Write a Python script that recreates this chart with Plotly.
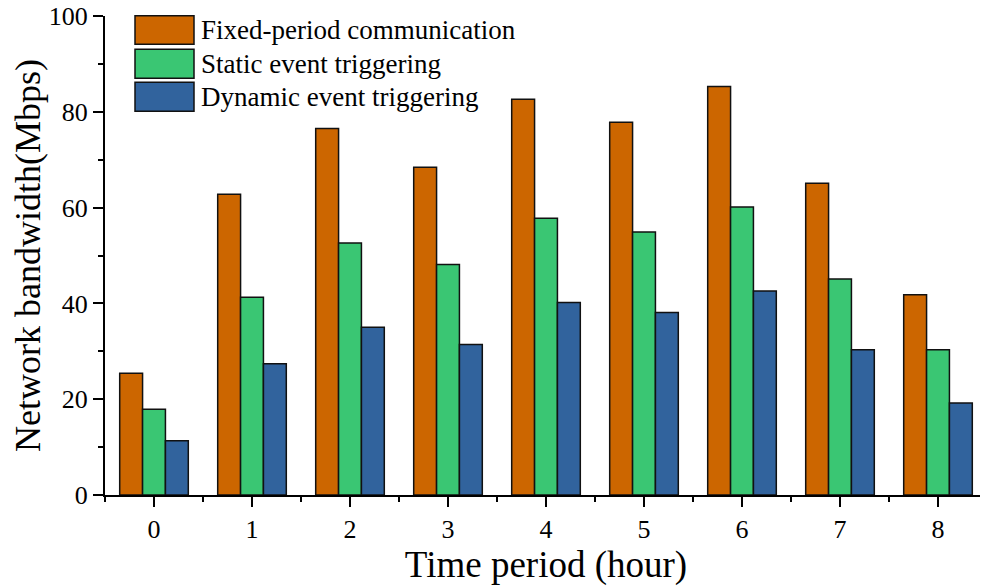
import plotly.graph_objects as go

periods = [0, 1, 2, 3, 4, 5, 6, 7, 8]
series_names = ["Fixed-period communication", "Static event triggering", "Dynamic event triggering"]
fixed_period = [25.4, 62.8, 76.5, 68.4, 82.6, 77.8, 85.3, 65.1, 41.8]
static_event = [17.9, 41.3, 52.6, 48.1, 57.8, 54.9, 60.1, 45.1, 30.3]
dynamic_event = [11.3, 27.4, 35.0, 31.4, 40.2, 38.1, 42.6, 30.3, 19.2]
colors = ["#CC6600", "#3AC673", "#31639D"]

W, H = 988, 586
OFF = 8  # browser default body margin
# target plot area in screen pixels: x 105..987, y 16..495
L, T = 105 - OFF, 16 - OFF
R = W - (987 - OFF)
B = H - (495 - OFF)
pw, ph = W - L - R, H - T - B

FONT = "Liberation Serif, Times New Roman, serif"

fig = go.Figure()
for name, vals, c in zip(series_names, [fixed_period, static_event, dynamic_event], colors):
    fig.add_trace(go.Bar(x=periods, y=vals, name=name, marker=dict(color=c, line=dict(color="#111111", width=1.5)),
                         showlegend=False))

# custom legend with large swatches (screen pixel positions)
sw_x0, sw_x1 = 135, 194
rows = [(15.7, 44.3), (49.3, 78.3), (82.3, 111.3)]
for (y0, y1), c, name in zip(rows, colors, series_names):
    fig.add_shape(type="rect", xref="paper", yref="paper",
                  x0=(sw_x0 - 105) / pw, x1=(sw_x1 - 105) / pw,
                  y0=(495 - y1) / ph, y1=(495 - y0) / ph,
                  fillcolor=c, line=dict(color="#111111", width=1.5))
    fig.add_annotation(xref="paper", yref="paper", x=(199 - 105) / pw, y=(495 - (y0 + y1) / 2) / ph,
                       text=name, showarrow=False, xanchor="left", yanchor="middle",
                       font=dict(family=FONT, size=27, color="black"))

fig.update_layout(
    width=W, height=H,
    margin=dict(l=L, r=R, t=T, b=B, autoexpand=False),
    paper_bgcolor="white", plot_bgcolor="white",
    barmode="group", bargap=0.3, bargroupgap=0,
    font=dict(family=FONT, color="black"),
)
fig.update_xaxes(
    range=[-0.5, 8.5], tickvals=periods, ticktext=[str(p) for p in periods],
    showgrid=False, zeroline=False, showline=True, linecolor="black", linewidth=2,
    ticks="outside", ticklen=10, tickwidth=2, tickcolor="black",
    tickfont=dict(family=FONT, size=26), ticklabeloverflow="allow",
    minor=dict(ticks="outside", ticklen=5, tickwidth=2, tickcolor="black", tick0=0.5, dtick=1),
    title=dict(text="Time period (hour)", font=dict(family=FONT, size=37), standoff=2),
)
fig.update_yaxes(
    range=[0, 100], dtick=20, tick0=0,
    showgrid=False, zeroline=False, showline=True, linecolor="black", linewidth=2,
    ticks="outside", ticklen=10, tickwidth=2, tickcolor="black",
    tickfont=dict(family=FONT, size=26), ticklabeloverflow="allow",
    minor=dict(ticks="outside", ticklen=5, tickwidth=2, tickcolor="black", tick0=10, dtick=20),
    title=dict(text="Network bandwidth(Mbps)", font=dict(family=FONT, size=36), standoff=14),
)

fig.write_html("out.html")
